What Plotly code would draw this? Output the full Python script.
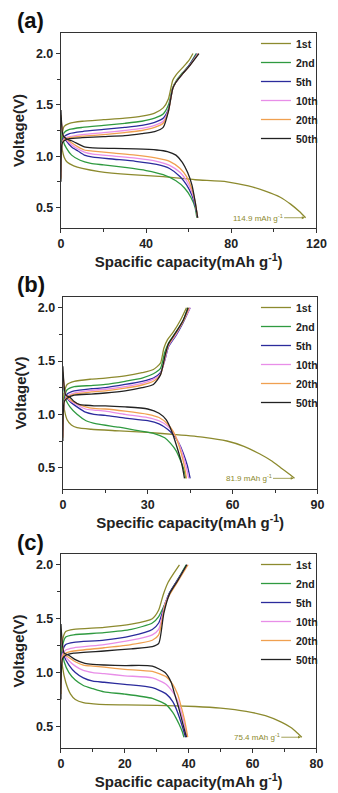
import plotly.graph_objects as go

# page body has an 8px margin, so the figure is drawn 8px in and down
OFF = 8
FW, FH = 338 - OFF, 793 - OFF

CYCLES = ["1st", "2nd", "5th", "10th", "20th", "50th"]
COLORS = ["#8c8a2e", "#2f9a40", "#2b2b9c", "#e88ee8", "#f0a050", "#222222"]

# ---------------- Panel (a) ----------------
a_1st_dq = [0, 0.5, 1.5, 3, 6, 10, 18, 33, 48, 63, 78, 88, 96, 103, 108, 112, 114.9]
a_1st_dv = [1.2, 1.08, 0.99, 0.94, 0.905, 0.88, 0.85, 0.82, 0.80, 0.77, 0.75, 0.71, 0.66, 0.60, 0.53, 0.46, 0.40]
a_2nd_dq = [0, 1, 2.5, 5, 9, 14, 20, 30, 40, 48, 54, 58, 61, 63, 63.8]
a_2nd_dv = [1.3, 1.15, 1.08, 1.01, 0.96, 0.93, 0.915, 0.89, 0.86, 0.82, 0.76, 0.69, 0.60, 0.50, 0.40]
a_5th_dq = [0, 1, 2.5, 5, 8, 11, 15, 25, 35, 45, 51, 56, 59, 61.5, 63, 64.2]
a_5th_dv = [1.35, 1.2, 1.15, 1.09, 1.05, 1.01, 0.99, 0.97, 0.95, 0.92, 0.88, 0.80, 0.72, 0.62, 0.52, 0.40]
a_10th_dq = [0, 1, 2.5, 5, 8, 11, 15, 25, 35, 45, 51, 56, 59, 61.5, 63, 64.2]
a_10th_dv = [1.38, 1.2, 1.16, 1.11, 1.07, 1.04, 1.02, 1.0, 0.98, 0.95, 0.91, 0.84, 0.76, 0.65, 0.54, 0.40]
a_20th_dq = [0, 1, 2.5, 5, 8, 11, 15, 25, 35, 45, 51, 56, 59, 61.5, 63, 64.2]
a_20th_dv = [1.4, 1.2, 1.17, 1.13, 1.09, 1.06, 1.05, 1.03, 1.01, 0.98, 0.95, 0.88, 0.80, 0.68, 0.56, 0.40]
a_50th_dq = [0, 1, 2.5, 5, 8, 11, 15, 25, 35, 45, 50, 54, 57, 59.5, 61.5, 63, 64.2]
a_50th_dv = [1.45, 1.2, 1.17, 1.15, 1.12, 1.09, 1.08, 1.075, 1.07, 1.06, 1.045, 1.01, 0.94, 0.84, 0.72, 0.56, 0.40]

a_1st_cq = [0, 0.5, 1.5, 4, 10, 20, 30, 38, 44, 48, 50.5, 52.5, 54, 57, 60, 62]
a_1st_cv = [0.95, 1.2, 1.29, 1.32, 1.34, 1.355, 1.37, 1.39, 1.42, 1.47, 1.56, 1.74, 1.79, 1.86, 1.93, 2.0]
a_2nd_cq = [0, 0.5, 1.5, 4, 10, 20, 30, 38, 44, 48, 50.5, 52.5, 54, 57, 60, 63.5]
a_2nd_cv = [0.9, 1.15, 1.23, 1.26, 1.28, 1.30, 1.32, 1.34, 1.37, 1.41, 1.50, 1.67, 1.73, 1.81, 1.88, 2.0]
a_5th_cq = [0, 0.5, 1.5, 4, 10, 20, 30, 38, 44, 48, 50.5, 52.5, 54, 57, 60, 64]
a_5th_cv = [0.85, 1.13, 1.19, 1.22, 1.24, 1.26, 1.28, 1.30, 1.33, 1.37, 1.46, 1.66, 1.72, 1.80, 1.88, 2.0]
a_10th_cq = [0, 0.5, 1.5, 4, 10, 20, 30, 38, 44, 48, 50.5, 52.5, 54, 57, 60, 64.3]
a_10th_cv = [0.8, 1.12, 1.17, 1.19, 1.21, 1.23, 1.25, 1.27, 1.30, 1.34, 1.45, 1.66, 1.72, 1.80, 1.87, 2.0]
a_20th_cq = [0, 0.5, 1.5, 4, 10, 20, 30, 38, 44, 48, 50.5, 52.5, 54, 57, 60, 64.5]
a_20th_cv = [0.78, 1.12, 1.16, 1.18, 1.195, 1.21, 1.23, 1.25, 1.28, 1.32, 1.44, 1.66, 1.72, 1.80, 1.87, 2.0]
a_50th_cq = [0, 0.5, 1.5, 4, 10, 20, 30, 38, 44, 48, 50.5, 52.5, 54, 57, 60, 64.8]
a_50th_cv = [0.75, 1.12, 1.15, 1.17, 1.18, 1.19, 1.20, 1.22, 1.24, 1.28, 1.44, 1.66, 1.72, 1.80, 1.87, 2.0]

# ---------------- Panel (b) ----------------
b_1st_dq = [0, 0.5, 1.5, 3, 5, 10, 20, 30, 40, 50, 58, 64, 69.5, 74, 77, 80, 81.9]
b_1st_dv = [1.2, 1.05, 0.95, 0.9, 0.875, 0.86, 0.845, 0.83, 0.81, 0.785, 0.75, 0.70, 0.63, 0.56, 0.50, 0.44, 0.40]
b_2nd_dq = [0, 1, 2.5, 5, 8.2, 12, 19.7, 26, 32.3, 36, 38, 40, 41.4, 42.7, 43.5]
b_2nd_dv = [1.3, 1.14, 1.07, 1.0, 0.94, 0.91, 0.88, 0.85, 0.82, 0.78, 0.73, 0.66, 0.58, 0.49, 0.40]
b_5th_dq = [0, 1, 2.5, 5, 8, 11, 15, 22, 30, 34, 37, 39, 41, 42.5, 44, 45]
b_5th_dv = [1.35, 1.17, 1.12, 1.07, 1.02, 1.0, 0.99, 0.965, 0.94, 0.91, 0.86, 0.81, 0.73, 0.64, 0.52, 0.40]
b_10th_dq = [0, 1, 2.5, 5, 8, 11, 15, 22, 30, 34, 37, 39, 40.8, 42.2, 43.5, 44.5]
b_10th_dv = [1.38, 1.17, 1.13, 1.09, 1.05, 1.04, 1.03, 1.0, 0.97, 0.94, 0.89, 0.83, 0.74, 0.64, 0.52, 0.40]
b_20th_dq = [0, 1, 2.5, 5, 8, 11, 15, 22, 30, 34, 37, 39, 40.6, 41.9, 43, 43.7]
b_20th_dv = [1.4, 1.18, 1.14, 1.10, 1.07, 1.055, 1.05, 1.03, 1.0, 0.97, 0.91, 0.84, 0.74, 0.63, 0.51, 0.40]
b_50th_dq = [0, 1, 2.5, 4, 6, 8, 11, 15, 22, 30, 34, 36.5, 38.5, 40.5, 42, 43]
b_50th_dv = [1.45, 1.18, 1.16, 1.12, 1.09, 1.085, 1.08, 1.08, 1.07, 1.05, 1.01, 0.95, 0.84, 0.68, 0.54, 0.40]

b_1st_cq = [0, 0.5, 1.5, 4, 10, 15, 22, 28, 32, 34.5, 35.7, 37, 39, 41.5, 43.7]
b_1st_cv = [0.95, 1.2, 1.28, 1.31, 1.33, 1.34, 1.36, 1.39, 1.42, 1.48, 1.62, 1.70, 1.77, 1.88, 2.0]
b_2nd_cq = [0, 0.5, 1.5, 4, 10, 15, 22, 28, 32, 34.5, 36, 37.2, 40, 42.5, 44.2]
b_2nd_cv = [0.9, 1.15, 1.23, 1.26, 1.27, 1.28, 1.31, 1.34, 1.38, 1.43, 1.58, 1.66, 1.77, 1.88, 2.0]
b_5th_cq = [0, 0.5, 1.5, 4, 10, 15, 22, 28, 32, 34.5, 36.2, 37.3, 40, 42.5, 45]
b_5th_cv = [0.85, 1.13, 1.19, 1.22, 1.24, 1.25, 1.28, 1.31, 1.34, 1.39, 1.52, 1.63, 1.74, 1.86, 2.0]
b_10th_cq = [0, 0.5, 1.5, 4, 10, 15, 22, 28, 32, 34.5, 36.2, 37.3, 40, 42.5, 45]
b_10th_cv = [0.8, 1.12, 1.17, 1.2, 1.225, 1.235, 1.26, 1.29, 1.33, 1.38, 1.53, 1.64, 1.75, 1.87, 2.0]
b_20th_cq = [0, 0.5, 1.5, 4, 10, 15, 22, 28, 32, 34.5, 36.2, 37.3, 40, 42.5, 44.6]
b_20th_cv = [0.78, 1.12, 1.16, 1.19, 1.21, 1.22, 1.245, 1.275, 1.31, 1.37, 1.55, 1.65, 1.76, 1.87, 2.0]
b_50th_cq = [0, 0.5, 1.5, 4, 10, 15, 22, 28, 32, 34.5, 36.2, 37.3, 40, 42.5, 44.3]
b_50th_cv = [0.75, 1.12, 1.15, 1.18, 1.19, 1.20, 1.22, 1.25, 1.28, 1.37, 1.56, 1.66, 1.77, 1.88, 2.0]

# ---------------- Panel (c) ----------------
c_1st_dq = [0, 0.5, 1.5, 3, 4.5, 7, 12, 20, 30, 42, 50, 58, 64, 69, 72, 74, 75.4]
c_1st_dv = [1.25, 1.05, 0.91, 0.8, 0.75, 0.72, 0.705, 0.70, 0.695, 0.685, 0.67, 0.64, 0.60, 0.54, 0.49, 0.44, 0.40]
c_2nd_dq = [0, 1, 2.5, 4.5, 7, 10, 13.5, 20, 28.6, 33, 35, 36, 37, 38, 38.5]
c_2nd_dv = [1.3, 1.1, 1.0, 0.93, 0.88, 0.85, 0.82, 0.80, 0.76, 0.70, 0.63, 0.58, 0.52, 0.45, 0.40]
c_5th_dq = [0, 1, 2.5, 4.5, 7, 10, 13.5, 20, 28.6, 33, 35, 36, 37, 38, 39]
c_5th_dv = [1.35, 1.15, 1.07, 1.0, 0.95, 0.92, 0.91, 0.89, 0.86, 0.80, 0.73, 0.67, 0.59, 0.50, 0.40]
c_10th_dq = [0, 1, 2.5, 4.5, 7, 10, 13.5, 20, 28.6, 33, 35, 36.5, 37.5, 38.5, 39.5]
c_10th_dv = [1.38, 1.17, 1.11, 1.06, 1.02, 1.0, 0.99, 0.97, 0.95, 0.89, 0.82, 0.74, 0.65, 0.54, 0.40]
c_20th_dq = [0, 1, 2.5, 4.5, 7, 10, 13.5, 20, 28.6, 33, 35, 36.5, 37.5, 38.7, 39.7]
c_20th_dv = [1.4, 1.17, 1.14, 1.10, 1.07, 1.06, 1.05, 1.03, 1.01, 0.96, 0.89, 0.80, 0.70, 0.56, 0.40]
c_50th_dq = [0, 1, 2.5, 4.5, 7.5, 10, 13.5, 20, 28.6, 32.6, 34.5, 35.6, 36.8, 38.3, 39.3]
c_50th_dv = [1.45, 1.18, 1.16, 1.12, 1.085, 1.075, 1.07, 1.065, 1.06, 1.0, 0.91, 0.80, 0.68, 0.51, 0.40]

c_1st_cq = [0, 0.5, 1.5, 4, 13.5, 22, 28.6, 30.6, 32, 33.6, 35.5, 37.1]
c_1st_cv = [1.0, 1.3, 1.38, 1.40, 1.42, 1.45, 1.50, 1.58, 1.72, 1.84, 1.93, 2.0]
c_2nd_cq = [0, 0.5, 1.5, 4, 13.5, 22, 28.6, 30.6, 32.6, 34, 36.5, 39.2]
c_2nd_cv = [0.95, 1.25, 1.33, 1.35, 1.37, 1.40, 1.46, 1.52, 1.64, 1.74, 1.86, 2.0]
c_5th_cq = [0, 0.5, 1.5, 4, 13.5, 22, 28.6, 30.6, 32.6, 34, 36.5, 39.5]
c_5th_cv = [0.9, 1.2, 1.26, 1.28, 1.30, 1.34, 1.40, 1.46, 1.64, 1.74, 1.86, 2.0]
c_10th_cq = [0, 0.5, 1.5, 4, 13.5, 22, 28.6, 30.6, 32.6, 34, 36.5, 39.6]
c_10th_cv = [0.85, 1.17, 1.21, 1.23, 1.26, 1.30, 1.35, 1.40, 1.64, 1.73, 1.85, 2.0]
c_20th_cq = [0, 0.5, 1.5, 4, 13.5, 22, 28.6, 30.6, 32.6, 34, 36.5, 39.8]
c_20th_cv = [0.8, 1.15, 1.18, 1.20, 1.23, 1.26, 1.30, 1.35, 1.63, 1.72, 1.84, 2.0]
c_50th_cq = [0, 0.5, 1.5, 4, 13.5, 22, 28.6, 30.6, 32.2, 34, 36.5, 39.4]
c_50th_cv = [0.75, 1.13, 1.16, 1.18, 1.20, 1.22, 1.24, 1.27, 1.55, 1.73, 1.85, 2.0]

FIRST_CAPACITY = ["114.9", "81.9", "75.4"]
PANEL_LABELS = ["(a)", "(b)", "(c)"]
X_TITLES = ["Spacific capacity(mAh g<sup>-1</sup>)", "Specific capacity(mAh g<sup>-1</sup>)",
            "Spacific capacity(mAh g<sup>-1</sup>)"]
X_RANGES = [[0, 120], [0, 90], [0, 80]]
X_TICKS = [[0, 40, 80, 120], [0, 30, 60, 90], [0, 20, 40, 60, 80]]
X_MINOR = [20, 15, 10]
Y_RANGES = [[0.3, 2.2], [0.3, 2.1], [0.3, 2.1]]
Y_TICKS = [0.5, 1.0, 1.5, 2.0]

g = globals()
panels = ["a", "b", "c"]

# plot-area boxes in screen pixels (left, right, top, bottom)
BOXES = [(60, 326, 33, 228), (62, 327, 297, 489), (60, 326, 554, 748)]
ANN_AX = [-48, -46, -45]
FONT = "Arial, Liberation Sans, sans-serif"


def px(sx):
    return (sx - OFF) / FW


def py(sy):
    return 1 - (sy - OFF) / FH


fig = go.Figure()
for p_i, p in enumerate(panels):
    sfx = "" if p_i == 0 else str(p_i + 1)
    leg = "legend" if p_i == 0 else "legend" + str(p_i + 1)
    for c_i, cyc in enumerate(CYCLES):
        dq = g[f"{p}_{cyc}_dq"]; dv = g[f"{p}_{cyc}_dv"]
        cq = g[f"{p}_{cyc}_cq"]; cv = g[f"{p}_{cyc}_cv"]
        fig.add_trace(go.Scatter(
            x=dq + [None] + cq, y=dv + [None] + cv, mode="lines",
            line=dict(color=COLORS[c_i], width=1.3, shape="spline", smoothing=0.6),
            name=cyc, legend=leg, xaxis="x" + sfx, yaxis="y" + sfx,
            connectgaps=False, showlegend=True))

layout = dict(width=FW, height=FH, margin=dict(l=0, r=0, t=0, b=0),
              paper_bgcolor="white", plot_bgcolor="white",
              font=dict(family=FONT, color="#222"), annotations=[])

for p_i in range(3):
    sfx = "" if p_i == 0 else str(p_i + 1)
    L, R, T, B = BOXES[p_i]
    layout["xaxis" + sfx] = dict(
        domain=[px(L), px(R)], anchor="y" + sfx, range=X_RANGES[p_i], tickvals=X_TICKS[p_i],
        ticks="outside", ticklen=4, tickwidth=1.2, tickcolor="#333",
        minor=dict(dtick=X_MINOR[p_i], ticks="outside", ticklen=3, tickcolor="#333", showgrid=False),
        showline=True, mirror=True, linecolor="#333", linewidth=1.3,
        showgrid=False, zeroline=False,
        tickfont=dict(size=12.5, family=FONT, weight="bold", color="#222"),
        title=dict(text=X_TITLES[p_i], font=dict(size=15, family=FONT, weight="bold", color="#222"),
                   standoff=0))
    layout["yaxis" + sfx] = dict(
        domain=[py(B), py(T)], anchor="x" + sfx, range=Y_RANGES[p_i], tickvals=Y_TICKS,
        ticktext=["0.5", "1.0", "1.5", "2.0"],
        ticks="outside", ticklen=4, tickwidth=1.2, tickcolor="#333",
        minor=dict(dtick=0.25, tick0=0.25, ticks="outside", ticklen=3, tickcolor="#333", showgrid=False),
        showline=True, mirror=True, linecolor="#333", linewidth=1.3,
        showgrid=False, zeroline=False,
        tickfont=dict(size=12.5, family=FONT, weight="bold", color="#222"),
        title=dict(text="Voltage(V)", font=dict(size=15, family=FONT, weight="bold", color="#222"),
                   standoff=7))
    leg = "legend" if p_i == 0 else "legend" + str(p_i + 1)
    layout[leg] = dict(x=px(263), y=py(T - 4), xanchor="left", yanchor="top",
                       bgcolor="rgba(0,0,0,0)", borderwidth=0,
                       font=dict(size=10.5, family=FONT, weight="bold", color="#222"),
                       itemwidth=30, tracegroupgap=0)
    # panel label
    layout["annotations"].append(dict(
        text=PANEL_LABELS[p_i], xref="paper", yref="paper", x=px(12), y=py(T - 12),
        xanchor="left", yanchor="middle", showarrow=False,
        font=dict(size=22, family=FONT, weight="bold", color="#111")))
    # first-cycle capacity marker
    p = panels[p_i]
    layout["annotations"].append(dict(
        text=FIRST_CAPACITY[p_i] + " mAh g<sup>-1</sup>", xref="x" + sfx, yref="y" + sfx,
        x=g[f"{p}_1st_dq"][-1], y=g[f"{p}_1st_dv"][-1], ax=ANN_AX[p_i], ay=0,
        showarrow=True, arrowhead=2, arrowsize=0.7, arrowwidth=0.8, arrowcolor=COLORS[0],
        standoff=1, font=dict(size=8, family=FONT, color=COLORS[0])))

fig.update_layout(**layout)
fig.write_html("out.html")
